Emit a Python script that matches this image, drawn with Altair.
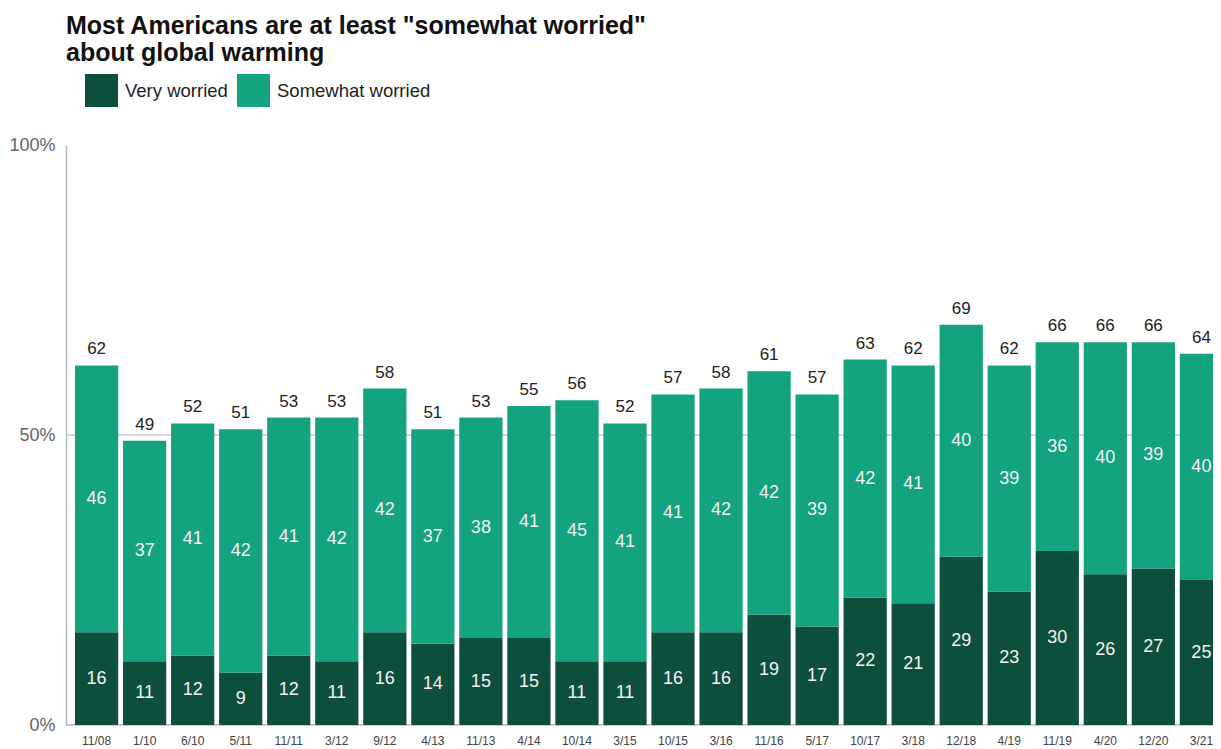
import altair as alt
import pandas as pd

dates = ["11/08", "1/10", "6/10", "5/11", "11/11", "3/12", "9/12", "4/13", "11/13", "4/14",
         "10/14", "3/15", "10/15", "3/16", "11/16", "5/17", "10/17", "3/18", "12/18", "4/19",
         "11/19", "4/20", "12/20", "3/21"]
very = [16, 11, 12, 9, 12, 11, 16, 14, 15, 15, 11, 11, 16, 16, 19, 17, 22, 21, 29, 23, 30, 26, 27, 25]
somewhat = [46, 37, 41, 42, 41, 42, 42, 37, 38, 41, 45, 41, 41, 42, 42, 39, 42, 41, 40, 39, 36, 40, 39, 40]
total = [62, 49, 52, 51, 53, 53, 58, 51, 53, 55, 56, 52, 57, 58, 61, 57, 63, 62, 69, 62, 66, 66, 66, 64]
series = ["Very worried", "Somewhat worried"]
colors = ["#0d4f3d", "#13a37e"]
y_ticks = [0, 50, 100]
grid_vals = [0, 50]

rows = []
for d, v, s, t in zip(dates, very, somewhat, total):
    rows.append({"date": d, "series": series[0], "lo": 0, "hi": v, "mid": v / 2, "label": v, "total": t})
    rows.append({"date": d, "series": series[1], "lo": v, "hi": t, "mid": (v + t) / 2, "label": s, "total": t})
df = pd.DataFrame(rows)
tot_df = pd.DataFrame({"date": dates, "total": total})
grid_df = pd.DataFrame({"y": grid_vals, "kind": ["base", "grid"]})

W, H = 1147, 580
FONT = "Liberation Sans"

xenc = alt.X("date:N", sort=dates,
             scale=alt.Scale(range=[9, 1157], paddingInner=0.1, paddingOuter=0),
             axis=alt.Axis(title=None, labelAngle=0, domain=False, ticks=False,
                           labelFontSize=12, labelColor="#444", labelPadding=10, labelFont=FONT))
yscale = alt.Scale(domain=[0, 100], nice=False)

rules = alt.Chart(grid_df).mark_rule().encode(
    y=alt.Y("y:Q", scale=yscale,
            axis=alt.Axis(title=None, values=y_ticks, labelExpr="datum.value + '%'", grid=False,
                          ticks=False, domain=True, domainColor="#bbbbbb", domainWidth=1.5,
                          labelFontSize=18, labelColor="#666666", labelPadding=11, labelFont=FONT)),
    x=alt.value(0), x2=alt.value(W),
    color=alt.Color("kind:N", scale=alt.Scale(domain=["base", "grid"], range=["#bbbbbb", "#cccccc"]), legend=None),
    strokeWidth=alt.value(1.5),
)

bars = alt.Chart(df).mark_bar(clip=True, strokeWidth=0).encode(
    x=xenc,
    y=alt.Y("lo:Q", scale=yscale),
    y2="hi:Q",
    fill=alt.Fill("series:N", scale=alt.Scale(domain=series, range=colors),
                  legend=alt.Legend(title=None, orient="none", legendX=19, legendY=-71,
                                    direction="horizontal", symbolType="square", symbolSize=1089,
                                    symbolStrokeWidth=0, symbolOpacity=1, labelFontSize=18.5,
                                    labelColor="#222222", labelFont=FONT, labelOffset=7,
                                    columnPadding=9, padding=0)),
)

inner = alt.Chart(df).mark_text(color="#f4f4f4", fontSize=18, baseline="middle", font=FONT).encode(
    x=alt.X("date:N", sort=dates),
    y=alt.Y("mid:Q", scale=yscale),
    text="label:Q",
)

tops = alt.Chart(tot_df).mark_text(color="#222222", fontSize=17, baseline="alphabetic", dy=-11, font=FONT).encode(
    x=alt.X("date:N", sort=dates),
    y=alt.Y("total:Q", scale=yscale),
    text="total:Q",
)

chart = alt.layer(rules, bars, inner, tops).resolve_scale(color="independent").properties(
    width=W, height=H,
    autosize=alt.AutoSizeParams(type="none"),
    padding={"left": 58, "top": 137, "right": 0, "bottom": 24},
    title=alt.Title(["Most Americans are at least \"somewhat worried\"", "about global warming"],
                    anchor="start", frame="group", fontSize=25, fontWeight="bold", color="#111111",
                    font=FONT, lineHeight=27, offset=8),
).configure_view(stroke=None)

chart.save("out.html", embed_options={"renderer": "svg", "actions": False})
